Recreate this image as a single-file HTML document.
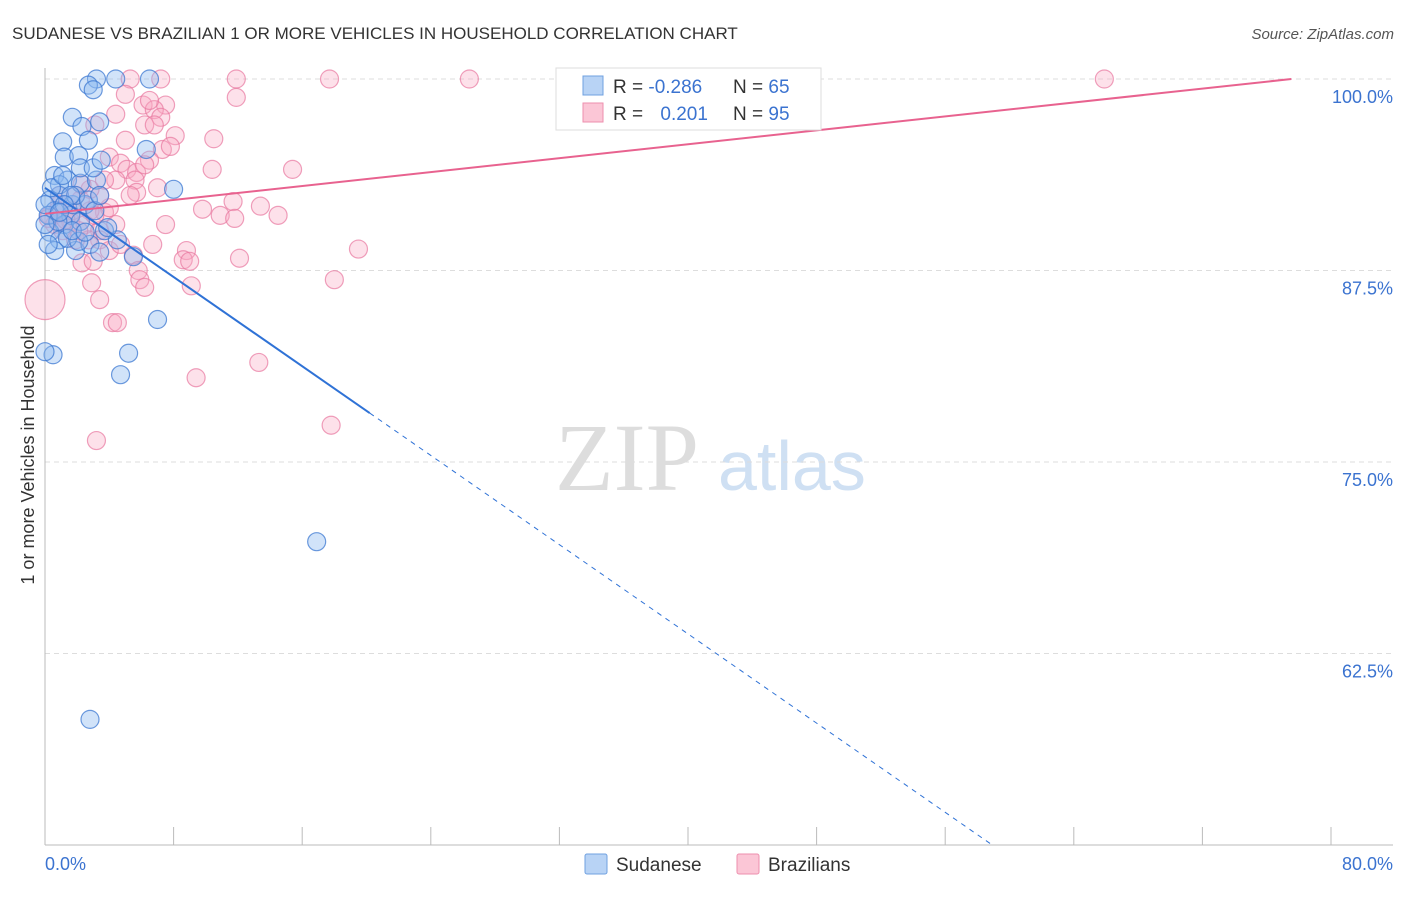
<!DOCTYPE html>
<html><head><meta charset="utf-8"><style>
body{margin:0;background:#fff;font-family:"Liberation Sans",sans-serif}
svg text{font-family:"Liberation Sans",sans-serif}
</style></head><body>
<svg id="c" width="1406" height="892">
<text x="12" y="39" font-size="17" fill="#333">SUDANESE VS BRAZILIAN 1 OR MORE VEHICLES IN HOUSEHOLD CORRELATION CHART</text>
<text x="1394" y="39" font-size="15" fill="#555" text-anchor="end" font-style="italic">Source: ZipAtlas.com</text>
<text x="555" y="490" font-size="96" fill="#ddd" font-family="Liberation Serif" style="font-family:'Liberation Serif',serif">ZIP</text>
<text x="718" y="490" font-size="70" fill="#cfe0f3">atlas</text>
<text transform="translate(34,455) rotate(-90)" font-size="18" fill="#333" text-anchor="middle">1 or more Vehicles in Household</text>
<g id="grid"></g><g id="pts"></g><g id="lines"></g>
<g>
<rect x="556" y="68" width="265" height="62" fill="#fff" stroke="#ddd"/>
<rect x="583" y="76" width="20" height="19" fill="#b8d3f5" stroke="#6fa0e0"/>
<rect x="583" y="103" width="20" height="19" fill="#fbc6d6" stroke="#ee8fae"/>
<text x="613" y="93" font-size="19" fill="#333">R = <tspan fill="#3b73d0">-0.286</tspan></text>
<text x="733" y="93" font-size="19" fill="#333">N = <tspan fill="#3b73d0">65</tspan></text>
<text x="613" y="120" font-size="19" fill="#333">R = <tspan fill="#3b73d0" dx="12">0.201</tspan></text>
<text x="733" y="120" font-size="19" fill="#333">N = <tspan fill="#3b73d0">95</tspan></text>
</g>
<g>
<rect x="585" y="854" width="22" height="20" fill="#b8d3f5" stroke="#6fa0e0" rx="2"/>
<text x="616" y="871" font-size="19" fill="#333">Sudanese</text>
<rect x="737" y="854" width="22" height="20" fill="#fbc6d6" stroke="#ee8fae" rx="2"/>
<text x="768" y="871" font-size="19" fill="#333">Brazilians</text>
</g>
</svg>
<script>
const yTicks=[100,87.5,75,62.5];
const yTickLabels=["100.0%","87.5%","75.0%","62.5%"];
const xTickLabels=["0.0%","80.0%"];
const blueX=[3.2,4.4,6.5,2.7,3.0,1.7,3.4,2.3,1.1,2.7,1.2,2.1,6.3,8.0,0.6,1.4,2.2,3.2,0.9,0.3,0.6,1.6,2.5,1.2,0.3,0.9,1.9,2.8,4.5,5.5,3.7,1.7,7.0,5.2,4.7,0.5,0.0,2.8,16.9,2.2,3.0,3.5,0.9,1.9,0.2,0.8,2.2,1.4,3.4,0.0,0.4,1.1,2.7,1.6,0.6,2.1,3.1,3.9,0.0,1.2,1.7,0.2,2.5,0.9,3.4];
const blueY=[100,100,100,99.6,99.3,97.5,97.2,96.9,95.9,96.0,94.9,95.0,95.4,92.8,93.7,93.4,93.2,93.4,92.4,92.1,91.4,91.1,91.8,90.5,90.0,89.5,88.8,89.2,89.5,88.4,90.1,91.8,84.3,82.1,80.7,82.0,82.2,58.2,69.8,94.2,94.2,94.7,93.1,92.4,91.1,90.7,90.7,89.6,88.7,90.5,92.9,93.7,92.1,92.4,88.8,89.4,91.4,90.3,91.8,91.8,90.1,89.2,90.0,91.3,92.4];
const pinkX=[5.3,7.2,11.9,17.7,26.4,65.9,11.9,5.0,6.1,7.5,6.8,7.2,4.4,3.1,6.2,8.1,10.5,7.3,6.5,4.0,4.7,5.1,5.7,10.4,15.4,4.4,5.6,7.0,5.7,11.7,13.4,9.8,10.9,11.8,14.5,7.5,3.7,2.8,2.2,1.9,4.0,3.4,0.9,0.3,0.6,1.6,2.5,3.4,4.4,6.7,8.8,8.6,9.0,12.1,19.5,5.5,5.8,2.3,3.0,3.4,2.7,5.9,6.2,9.1,18.0,2.9,3.4,4.2,4.5,0.0,13.3,9.4,17.8,3.2,1.6,0.9,1.1,1.9,4.0,4.7,2.8,2.3,3.1,3.7,1.7,1.3,0.8,0.2,2.1,5.3,6.2,7.8,5.0,6.8,6.5];
const pinkY=[100,100,100,100,100,100,98.8,99.0,98.3,98.3,98.0,97.5,97.7,97.0,97.0,96.3,96.1,95.4,94.7,94.9,94.5,94.1,93.9,94.1,94.1,93.4,93.4,92.9,92.6,92.0,91.7,91.5,91.1,90.9,91.1,90.5,91.3,91.4,92.1,92.4,91.6,92.4,91.8,91.1,90.5,90.7,90.5,90.1,90.5,89.2,88.8,88.2,88.1,88.3,88.9,88.5,87.5,88.0,88.1,89.5,89.5,86.9,86.4,86.5,86.9,86.7,85.6,84.1,84.1,85.6,81.5,80.5,77.4,76.4,91.1,92.4,90.1,89.5,88.8,89.2,92.8,93.1,91.1,93.4,91.4,90.8,91.4,90.9,90.1,92.4,94.4,95.6,96.0,97.0,98.6];
const blueFit=[92.9,-0.728];
const pinkFit=[91.2,0.1135];
const X0=45,X1=1331,Y0=845,Y1=79;
const sx=v=>X0+v/80*(X1-X0);
const sy=v=>Y0-(v-50)/50*(Y0-Y1);
const NS="http://www.w3.org/2000/svg";
function mk(t,a,p){const e=document.createElementNS(NS,t);for(const k in a)e.setAttribute(k,a[k]);p.appendChild(e);return e;}
const grid=document.getElementById('grid');
yTicks.forEach((t,i)=>{
 const l=mk('line',{x1:X0,x2:1393,y1:sy(t),y2:sy(t),stroke:'#ddd','stroke-dasharray':'5,4'},grid);
 
 
 const tx=mk('text',{x:1393,y:sy(t)+24,'font-size':18,fill:'#3b73d0','text-anchor':'end'},grid);
 tx.textContent=yTickLabels[i];
 
 
});
const ax=mk('line',{x1:X0,x2:1393,y1:Y0,y2:Y0,stroke:'#bbb'},grid);


const ay=mk('line',{x1:X0,x2:X0,y1:68,y2:Y0,stroke:'#bbb'},grid);


for(let i=0;i<=10;i++){const t=mk('line',{x1:sx(i*8),x2:sx(i*8),y1:Y0,y2:Y0+(i==0?0:-18),stroke:'#bbb'},grid);
 
 }
[[0,'start',X0],[80,'end',1393]].forEach((d,i)=>{const t=mk('text',{x:d[2],y:870,'font-size':18,fill:'#3b73d0','text-anchor':d[1]},grid);t.textContent=xTickLabels[i];
 
 });
const pts=document.getElementById('pts');
pinkX.forEach((x,i)=>{const c=mk('circle',{cx:sx(x),cy:sy(pinkY[i]),r:(x==0&&pinkY[i]==85.6)?20:9,fill:'rgba(248,170,195,0.35)',stroke:'rgba(232,120,160,0.7)','stroke-width':1.2},pts);
 
 });
blueX.forEach((x,i)=>{const c=mk('circle',{cx:sx(x),cy:sy(blueY[i]),r:9,fill:'rgba(140,185,240,0.4)',stroke:'rgba(60,120,210,0.75)','stroke-width':1.2},pts);
 
 });
const lines=document.getElementById('lines');
const bf=x=>blueFit[0]+blueFit[1]*x, pf=x=>pinkFit[0]+pinkFit[1]*x;
const bEnd=(blueFit[0]-50)/-blueFit[1];
let l=mk('line',{x1:sx(0),y1:sy(bf(0)),x2:sx(20.2),y2:sy(bf(20.2)),stroke:'#2f72d6','stroke-width':2},lines);


l=mk('line',{x1:sx(20.2),y1:sy(bf(20.2)),x2:sx(bEnd),y2:sy(bf(bEnd)),stroke:'#2f72d6','stroke-width':1,'stroke-dasharray':'5,5'},lines);


const pEnd=(100-pinkFit[0])/pinkFit[1];
l=mk('line',{x1:sx(0),y1:sy(pf(0)),x2:sx(pEnd),y2:sy(pf(pEnd)),stroke:'#e8628f','stroke-width':2},lines);


</script>
</body></html>
